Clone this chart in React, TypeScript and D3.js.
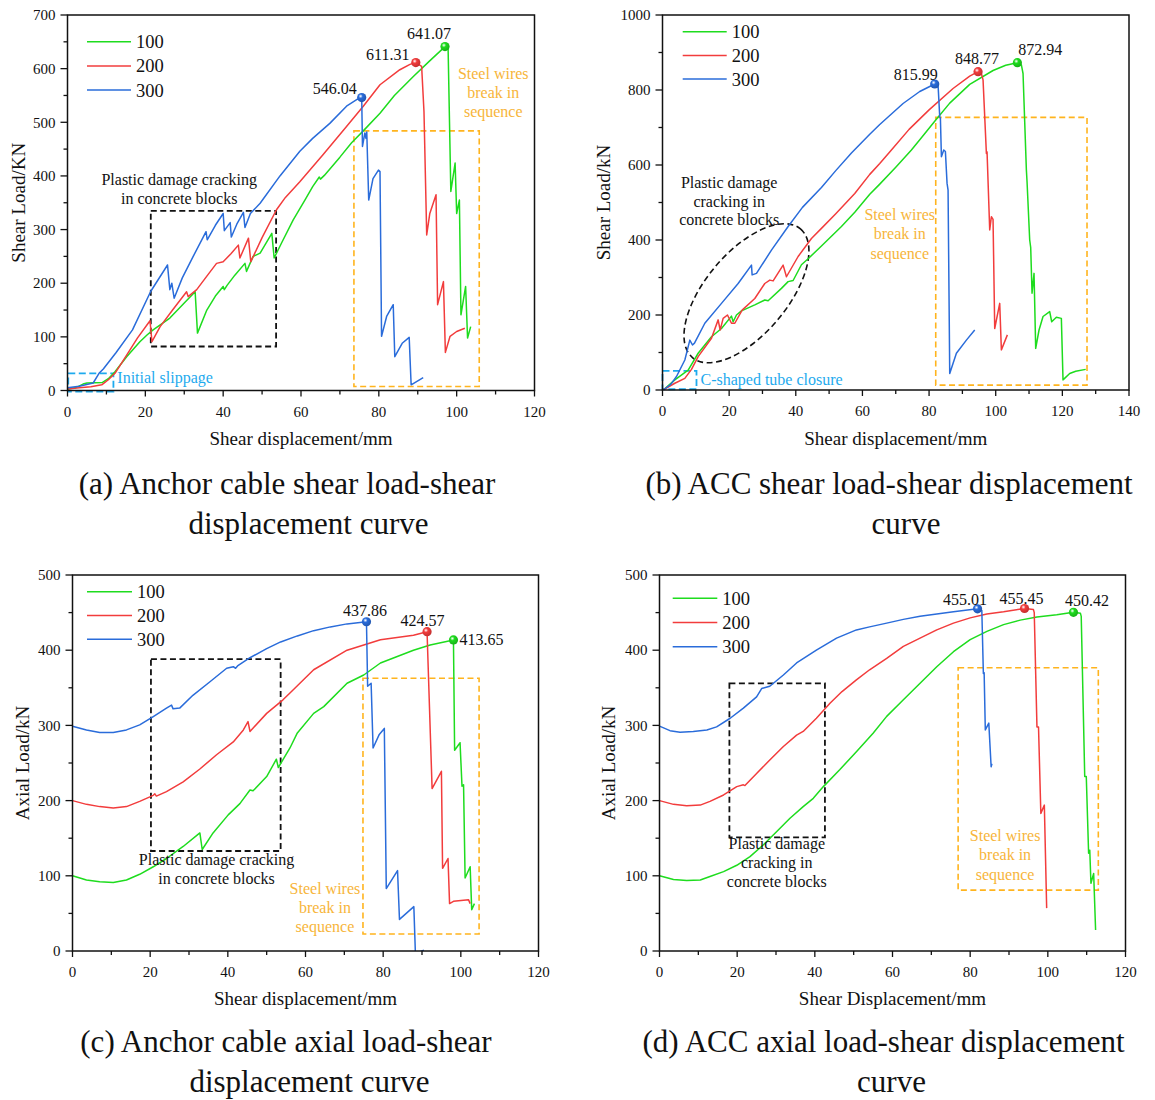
import React from 'react';
import * as d3 from 'd3';

type Pt = [number, number];

// ---------------- DATA ----------------
const seriesNames = ['100', '200', '300'];

// (a) Anchor cable shear load
const aGreen: Pt[] = [[0,3],[2,5],[4,12],[5,14],[7,14.5],[9,15],[10.5,22],[12.2,35],[15.2,63],[18.6,91],[20.5,104],[22,113],[26.3,135],[30,163],[32.8,184],[33.4,107],[35.8,150],[38,176],[40,194],[40.3,188],[41,196],[43,215],[45.6,237],[46,222],[47.7,250],[49.5,256],[52.5,293],[53.1,247],[55,275],[58,318],[61,355],[63,380],[64.7,398],[65,394],[66,401],[70,435],[73,462],[76,484],[80.3,517],[84,550],[88.8,585],[93,614],[97,641.07],[97.8,638],[98.5,371],[99.6,424],[100,330],[100.7,355],[101.1,141],[102.3,194],[102.8,98],[103.6,119]];
const aRed: Pt[] = [[0,3],[3,5],[6,7],[8.8,10.6],[10.5,20],[12.2,32],[15.2,66],[18,98],[21.2,130],[21.7,91],[23.8,119],[27,150],[30.6,184],[31,175],[33.2,188],[36,215],[38.3,237],[40,240],[42,255],[43.9,271],[44.3,247],[46.5,284],[47.1,240],[50,285],[53.7,337],[56,360],[59.7,389],[65.7,440],[71.7,492],[76,530],[80.3,570],[85.4,598],[88,608],[89.5,611.31],[91,604],[91.6,520],[92.3,290],[93.1,330],[94.7,365],[95.1,160],[96.6,203],[97.1,71],[98.3,101],[100,110],[102.1,116]];
const aBlue: Pt[] = [[0,5],[3,8],[6.6,14],[8.1,32],[9.2,40],[12.4,70],[16.7,113],[21.4,185],[25.7,234],[26.3,188],[26.8,200],[27.4,172],[29.5,210],[32.3,250],[35.6,296],[35.9,281],[38,308],[40,330],[40.3,298],[41.8,313],[42.1,286],[43.5,310],[45.2,332],[45.6,304],[47,330],[49.5,349],[54.6,400],[59.7,446],[63,470],[67.4,498],[71.7,530],[74.5,543],[75.6,546.04],[75.8,455],[76.4,480],[76.7,470],[76.9,482],[77.4,355],[78.5,395],[79.9,411],[80.3,408],[80.7,101],[82,138],[83.7,160],[84.1,63],[86,88],[87.8,99],[88.3,10.6],[91.4,24]];
const aPeaks = [{ s: '300', x: 75.6, y: 546.04 }, { s: '200', x: 89.5, y: 611.31 }, { s: '100', x: 97, y: 641.07 }];

// (b) ACC shear load
const bGreen: Pt[] = [[0,0],[0.5,2],[3.7,27],[7.7,53],[10.7,98],[14.7,142],[17.7,164],[20.7,197],[21.2,182],[22.2,200],[23.7,211],[27.7,227],[30.7,240],[31.7,238],[35.7,271],[37.7,289],[39.2,292],[41.7,334],[43.7,350],[47.7,384],[53.7,436],[57.7,474],[62.2,522],[65.2,549],[70,594],[74.7,640],[78,676],[82,720],[86.2,765],[92.2,815],[99.2,852],[103,866],[106.5,872.94],[107.7,867],[108.2,844],[109.2,587],[109.4,556],[110.2,400],[110.5,380],[110.9,258],[111.5,311],[112,111],[113,160],[114.2,196],[116.2,209],[116.8,182],[118.2,194],[119.7,191],[120.2,27],[122.2,44],[124,50],[127,55]];
const bRed: Pt[] = [[0,0],[0.5,2],[3.7,18],[6.7,31],[8.7,55],[10.7,89],[14.7,138],[16.7,187],[17.3,160],[18.2,191],[19.5,200],[20.7,178],[21.7,178],[23.9,213],[27.7,244],[30.7,284],[32.2,293],[33.2,291],[36.2,333],[37.2,302],[40.7,356],[44.7,404],[47.7,431],[52,470],[57.7,524],[62.2,575],[65.2,604],[68.7,640],[74,695],[80,747],[87.2,804],[92.2,837],[94.7,848.77],[95.7,844],[96.2,827],[97.2,631],[97.4,635],[98.2,427],[98.7,462],[99.2,455],[99.7,164],[101.2,231],[101.7,107],[103.5,147]];
const bBlue: Pt[] = [[0,0],[0.5,2],[2.5,15],[4.2,36],[6.7,80],[8.2,133],[9,120],[9.6,125],[12.7,178],[17.7,231],[22.7,284],[26.7,333],[26.9,307],[28.2,311],[32.7,373],[37.7,436],[42,487],[47.7,540],[52,585],[56.7,632],[62.2,682],[65.2,708],[72.2,764],[77.2,796],[81.7,815.99],[82.7,813],[83.2,729],[83.4,725],[83.7,622],[84.4,640],[84.9,636],[85.4,551],[85.7,533],[86.2,44],[88.2,98],[91.2,133],[93.7,160]];
const bPeaks = [{ s: '300', x: 81.7, y: 815.99 }, { s: '200', x: 94.7, y: 848.77 }, { s: '100', x: 106.5, y: 872.94 }];

// (c) Anchor cable axial load
const cGreen: Pt[] = [[0,100],[3.6,94.5],[7,92],[10.5,91],[13.9,94.5],[17.3,102],[20.8,112],[24.2,123],[28.5,139],[32.8,157],[33.4,135],[36.2,157],[40.1,181],[43.1,196],[45.7,214],[46.5,213],[50,232],[52.5,255],[53,244],[56,270],[57.9,290],[62.1,316],[64.7,325],[70.7,356],[75,367],[79.3,383],[87.8,400],[92.1,407],[98.1,413.65],[98.4,267],[99.8,277],[100.3,219],[100.7,221],[101.1,97],[102.4,112],[102.8,55],[103.5,63]];
const cRed: Pt[] = [[0,200],[3.6,195],[7,192],[10.5,190],[13.9,192],[17.3,199],[20.8,207],[21.2,209],[21.6,206],[24.2,212],[28.5,225],[32.8,242],[37.1,261],[41.4,278],[44,294],[45.2,305],[45.7,292],[50,316],[54.2,334],[56,343],[62.1,374],[70.7,400],[79.3,414],[87.8,420],[91.3,424.57],[92.6,216],[95,239],[95.3,110],[96.7,123],[97.1,63],[98.1,66],[102,68],[102.4,63]];
const cBlue: Pt[] = [[0,299],[3.6,294],[7,290.5],[10.5,290.5],[13.9,294],[17.3,300.7],[20.8,311.8],[24.2,323],[25.5,327],[25.9,322],[27.6,323],[31,340],[35.4,358],[39.7,376],[41.4,378],[42,376],[42.5,379],[45.7,390],[50,402],[53.6,411],[57.9,419],[62.1,426],[66.4,431],[70.7,435],[75.7,437.86],[76,352],[76.9,356],[77.4,270],[79,288],[80.3,296],[80.8,83],[83.7,107],[84.2,42],[87.9,59],[88.3,-3],[90.5,1]];
const cPeaks = [{ s: '300', x: 75.7, y: 437.86 }, { s: '200', x: 91.3, y: 424.57 }, { s: '100', x: 98.1, y: 413.65 }];

// (d) ACC axial load
const dGreen: Pt[] = [[0,100],[3.6,95],[7,93.6],[10.5,94.5],[13,99],[16.5,105.5],[19.9,114],[23.3,125.5],[26.7,141],[30.2,159],[33.6,176.5],[37,192],[39.6,203],[42.2,218.6],[46.4,241],[50.7,265],[55,289.6],[58.5,312],[62.8,334],[67.1,356],[71.4,378],[75.7,398],[80,414],[84.3,425],[88.6,434],[92.9,440],[97.2,444],[102.3,447],[106.6,450.42],[108.4,449],[108.6,445],[109.5,232],[109.9,232],[110.5,130],[110.8,134],[111.1,90],[111.8,103],[112.3,28]];
const dRed: Pt[] = [[0,200],[3.6,195],[7,193],[10.5,194],[13,199],[16.5,207.5],[19.9,218.6],[21.6,221],[22,220],[25,236],[28.4,254],[31.9,272],[35.3,287],[37,292],[40.4,309.5],[43.9,329.5],[47,345],[50.7,360.5],[54.1,374],[58.5,389],[62.8,405],[67.1,416],[71.4,427],[75.7,436],[80,443],[84.3,448],[88.6,451],[94,455.45],[96.3,454],[96.5,450],[97.2,298],[97.6,298],[98.2,183],[99.1,194],[99.7,57]];
const dBlue: Pt[] = [[0,299],[2.7,293],[5.3,291],[8.7,292],[12.2,294],[14.7,298],[18.2,309.5],[21.6,323],[25,338],[26.3,349],[27,350],[28.4,352],[31.9,367],[35.3,383],[40.4,400],[45.6,416],[50.7,427],[54.1,431],[58.5,436],[62.8,441],[67.1,445],[71.4,448],[75.7,451],[81.9,455.01],[83,453],[83.4,369],[83.6,370],[83.9,294],[84.8,303],[85.4,245],[85.6,249]];
const dPeaks = [{ s: '300', x: 81.9, y: 455.01 }, { s: '200', x: 94, y: 455.45 }, { s: '100', x: 106.6, y: 450.42 }];

// ---------------- STYLE ----------------
const COLORS: Record<string, string> = { '100': '#1edc1e', '200': '#f23c3c', '300': '#2a6cda' };
const ORANGE = '#ffb41e';
const ORANGE_TXT = '#f7b53a';
const CYAN = '#1eaaee';
const FONT = "'Liberation Serif','Times New Roman',serif";

type Box =
  | { kind: 'rect'; x0: number; x1: number; y0: number; y1: number; color: string; dash: string; w: number }
  | { kind: 'ellipse'; cx: number; cy: number; rx: number; ry: number; rot: number; color: string; dash: string; w: number };

interface TextBlock { x: number; y: number; lines: string[]; color: string; anchor: 'start' | 'middle'; lh: number; size: number }

interface PanelCfg {
  id: string;
  frame: { l: number; r: number; t: number; b: number };
  xMax: number; xStep: number; yMax: number; yStep: number;
  series: Pt[][];
  peaks: { s: string; x: number; y: number }[];
  peakOff: [number, number][];
  legend: { x1: number; x2: number; y0: number; dy: number };
  yTitle: string; yTitleX: number;
  xTitle: string; xTitleY: number;
  caption: { lines: string[]; cx: number[]; y0: number };
  boxes: Box[];
  texts: TextBlock[];
}

const panels: PanelCfg[] = [
  {
    id: 'a', frame: { l: 67.5, r: 534.5, t: 15, b: 390.5 },
    xMax: 120, xStep: 20, yMax: 700, yStep: 100,
    series: [aGreen, aRed, aBlue], peaks: aPeaks,
    peakOff: [[-27, -3.5], [-28, -3], [-16, -8]],
    legend: { x1: 87, x2: 131, y0: 41.7, dy: 24.2 },
    yTitle: 'Shear Load/KN', yTitleX: 25,
    xTitle: 'Shear displacement/mm', xTitleY: 445,
    caption: { lines: ['(a) Anchor cable shear load-shear', 'displacement curve'], cx: [287, 308.5], y0: 494 },
    boxes: [
      { kind: 'rect', x0: 21.4, x1: 53.6, y0: 82, y1: 335, color: '#111', dash: '6,3.5', w: 1.8 },
      { kind: 'rect', x0: 73.6, x1: 105.8, y0: 7.5, y1: 484, color: ORANGE, dash: '6,3.5', w: 1.6 },
      { kind: 'rect', x0: 0.2, x1: 11.8, y0: -2, y1: 32, color: CYAN, dash: '7,3.5', w: 1.8 },
    ],
    texts: [
      { x: 28.7, y: 383, lines: ['Plastic damage cracking', 'in concrete blocks'], color: '#111', anchor: 'middle', lh: 18.5, size: 16 },
      { x: 12.8, y: 14, lines: ['Initial slippage'], color: CYAN, anchor: 'start', lh: 18, size: 16 },
      { x: 109.4, y: 580.6, lines: ['Steel wires', 'break in', 'sequence'], color: ORANGE_TXT, anchor: 'middle', lh: 19, size: 16 },
    ],
  },
  {
    id: 'b', frame: { l: 662.5, r: 1129, t: 15, b: 390 },
    xMax: 140, xStep: 20, yMax: 1000, yStep: 200,
    series: [bGreen, bRed, bBlue], peaks: bPeaks,
    peakOff: [[-19, -4], [-1, -8], [23, -8]],
    legend: { x1: 682.7, x2: 726.7, y0: 31.7, dy: 23.7 },
    yTitle: 'Shear Load/kN', yTitleX: 610,
    xTitle: 'Shear displacement/mm', xTitleY: 445,
    caption: { lines: ['(b) ACC shear load-shear displacement', 'curve'], cx: [889, 906], y0: 494 },
    boxes: [
      { kind: 'ellipse', cx: 25.2, cy: 258, rx: 84, ry: 41, rot: -50, color: '#111', dash: '6,3.5', w: 1.6 },
      { kind: 'rect', x0: 82, x1: 127.4, y0: 13, y1: 727, color: ORANGE, dash: '6,3.5', w: 1.6 },
      { kind: 'rect', x0: 0, x1: 10.2, y0: 2, y1: 51, color: CYAN, dash: '7,3.5', w: 1.8 },
    ],
    texts: [
      { x: 20, y: 538.7, lines: ['Plastic damage', 'cracking in', 'concrete blocks'], color: '#111', anchor: 'middle', lh: 18.7, size: 16 },
      { x: 11.4, y: 13.3, lines: ['C-shaped tube closure'], color: CYAN, anchor: 'start', lh: 18, size: 16 },
      { x: 71.2, y: 453, lines: ['Steel wires', 'break in', 'sequence'], color: ORANGE_TXT, anchor: 'middle', lh: 19.2, size: 16 },
    ],
  },
  {
    id: 'c', frame: { l: 72.5, r: 538.5, t: 575, b: 951 },
    xMax: 120, xStep: 20, yMax: 500, yStep: 100,
    series: [cGreen, cRed, cBlue], peaks: cPeaks,
    peakOff: [[-1.5, -5.5], [-4.5, -5.5], [28, 5]],
    legend: { x1: 87, x2: 132, y0: 591.7, dy: 23.8 },
    yTitle: 'Axial Load/kN', yTitleX: 29,
    xTitle: 'Shear displacement/mm', xTitleY: 1005,
    caption: { lines: ['(c) Anchor cable axial load-shear', 'displacement curve'], cx: [286, 309.5], y0: 1052 },
    boxes: [
      { kind: 'rect', x0: 20.2, x1: 53.6, y0: 133, y1: 388, color: '#111', dash: '6,3.5', w: 1.8 },
      { kind: 'rect', x0: 74.8, x1: 104.7, y0: 22.6, y1: 362.6, color: ORANGE, dash: '6,3.5', w: 1.6 },
    ],
    texts: [
      { x: 37.1, y: 114, lines: ['Plastic damage cracking', 'in concrete blocks'], color: '#111', anchor: 'middle', lh: 19, size: 16 },
      { x: 65, y: 75.8, lines: ['Steel wires', 'break in', 'sequence'], color: ORANGE_TXT, anchor: 'middle', lh: 19, size: 16 },
    ],
  },
  {
    id: 'd', frame: { l: 659.5, r: 1125.5, t: 575, b: 951 },
    xMax: 120, xStep: 20, yMax: 500, yStep: 100,
    series: [dGreen, dRed, dBlue], peaks: dPeaks,
    peakOff: [[-12.5, -4], [-3, -5], [13.5, -6]],
    legend: { x1: 672.7, x2: 717.3, y0: 598.3, dy: 24.2 },
    yTitle: 'Axial Load/kN', yTitleX: 615,
    xTitle: 'Shear Displacement/mm', xTitleY: 1005,
    caption: { lines: ['(d) ACC axial load-shear displacement', 'curve'], cx: [883.5, 891.5], y0: 1052 },
    boxes: [
      { kind: 'rect', x0: 18, x1: 42.6, y0: 151, y1: 356, color: '#111', dash: '6,3.5', w: 1.8 },
      { kind: 'rect', x0: 76.9, x1: 113, y0: 81, y1: 376.7, color: ORANGE, dash: '6,3.5', w: 1.6 },
    ],
    texts: [
      { x: 30.2, y: 135, lines: ['Plastic damage', 'cracking in', 'concrete blocks'], color: '#111', anchor: 'middle', lh: 19, size: 16 },
      { x: 89, y: 146, lines: ['Steel wires', 'break in', 'sequence'], color: ORANGE_TXT, anchor: 'middle', lh: 19.2, size: 16 },
    ],
  },
];

function Panel({ p }: { p: PanelCfg }) {
  const { l, r, t, b } = p.frame;
  const x = d3.scaleLinear().domain([0, p.xMax]).range([l, r]);
  const y = d3.scaleLinear().domain([0, p.yMax]).range([b, t]);
  const line = d3.line<Pt>().x(d => x(d[0])).y(d => y(d[1]));
  const xMajor = d3.range(0, p.xMax + 1e-6, p.xStep);
  const xMinor = d3.range(p.xStep / 2, p.xMax, p.xStep);
  const yMajor = d3.range(0, p.yMax + 1e-6, p.yStep);
  const yMinor = d3.range(p.yStep / 2, p.yMax, p.yStep);
  const clipId = `clip-${p.id}`;
  return (
    <g>
      <defs>
        <clipPath id={clipId}>
          <rect x={l} y={t} width={r - l} height={b - t} />
        </clipPath>
      </defs>
      {p.boxes.map((bx, i) =>
        bx.kind === 'rect' ? (
          <rect key={i} x={x(bx.x0)} y={y(bx.y1)} width={x(bx.x1) - x(bx.x0)} height={y(bx.y0) - y(bx.y1)}
            fill="none" stroke={bx.color} strokeWidth={bx.w} strokeDasharray={bx.dash} />
        ) : (
          <ellipse key={i} cx={0} cy={0} rx={bx.rx} ry={bx.ry}
            transform={`translate(${x(bx.cx)},${y(bx.cy)}) rotate(${bx.rot})`}
            fill="none" stroke={bx.color} strokeWidth={bx.w} strokeDasharray={bx.dash} />
        )
      )}
      <g clipPath={`url(#${clipId})`}>
        {p.series.map((s, i) => (
          <path key={i} d={line(s) || ''} fill="none" stroke={COLORS[seriesNames[i]]} strokeWidth={1.5} strokeLinejoin="round" />
        ))}
      </g>
      {p.peaks.map((pk, i) => (
        <g key={i}>
          <circle cx={x(pk.x)} cy={y(pk.y)} r={4.6} fill={`url(#grad-${pk.s})`} />
          <text x={x(pk.x) + p.peakOff[i][0]} y={y(pk.y) + p.peakOff[i][1]} textAnchor="middle" fontSize={16} fill="#111">
            {pk.y.toFixed(2)}
          </text>
        </g>
      ))}
      {p.texts.map((tb, i) => (
        <text key={i} x={x(tb.x)} y={y(tb.y)} textAnchor={tb.anchor} fontSize={tb.size} fill={tb.color}>
          {tb.lines.map((ln, j) => (
            <tspan key={j} x={x(tb.x)} dy={j === 0 ? 0 : tb.lh}>{ln}</tspan>
          ))}
        </text>
      ))}
      <rect x={l} y={t} width={r - l} height={b - t} fill="none" stroke="#111" strokeWidth={1.5} />
      {xMajor.map(v => (
        <g key={`xm${v}`}>
          <line x1={x(v)} x2={x(v)} y1={b} y2={b + 6} stroke="#111" strokeWidth={1.3} />
          <text x={x(v)} y={b + 26} textAnchor="middle" fontSize={15} fill="#111">{v}</text>
        </g>
      ))}
      {xMinor.map(v => (
        <line key={`xn${v}`} x1={x(v)} x2={x(v)} y1={b} y2={b + 4} stroke="#111" strokeWidth={1.3} />
      ))}
      {yMajor.map(v => (
        <g key={`ym${v}`}>
          <line x1={l - 7} x2={l} y1={y(v)} y2={y(v)} stroke="#111" strokeWidth={1.3} />
          <text x={l - 12} y={y(v)} dy="0.35em" textAnchor="end" fontSize={15} fill="#111">{v}</text>
        </g>
      ))}
      {yMinor.map(v => (
        <line key={`yn${v}`} x1={l - 4} x2={l} y1={y(v)} y2={y(v)} stroke="#111" strokeWidth={1.3} />
      ))}
      {seriesNames.map((n, i) => {
        const ly = p.legend.y0 + i * p.legend.dy;
        return (
          <g key={n}>
            <line x1={p.legend.x1} x2={p.legend.x2} y1={ly} y2={ly} stroke={COLORS[n]} strokeWidth={1.5} />
            <text x={p.legend.x2 + 5} y={ly} dy="0.35em" fontSize={18.5} fill="#111">{n}</text>
          </g>
        );
      })}
      <text x={(l + r) / 2} y={p.xTitleY} textAnchor="middle" fontSize={19} fill="#111">{p.xTitle}</text>
      <text transform={`translate(${p.yTitleX},${(t + b) / 2}) rotate(-90)`} textAnchor="middle" fontSize={19} fill="#111">{p.yTitle}</text>
      {p.caption.lines.map((ln, i) => (
        <text key={i} x={p.caption.cx[i]} y={p.caption.y0 + i * 39.5} textAnchor="middle" fontSize={31} fill="#111">{ln}</text>
      ))}
    </g>
  );
}

export default function App() {
  return (
    <svg width={1155} height={1100} style={{ position: 'absolute', left: 0, top: 0, background: '#fff' }} fontFamily={FONT}>
      <defs>
        {seriesNames.map(n => (
          <radialGradient key={n} id={`grad-${n}`} cx="38%" cy="35%" r="65%">
            <stop offset="0%" stopColor="#ffffff" stopOpacity={0.85} />
            <stop offset="35%" stopColor={COLORS[n]} />
            <stop offset="100%" stopColor={d3.color(COLORS[n])!.darker(0.6).toString()} />
          </radialGradient>
        ))}
      </defs>
      <rect x={0} y={0} width={1155} height={1100} fill="#fff" />
      {panels.map(p => <Panel key={p.id} p={p} />)}
    </svg>
  );
}
